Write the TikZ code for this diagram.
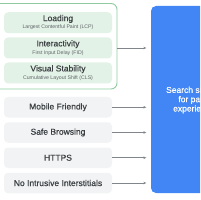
\documentclass[tikz,border=0pt]{standalone}
\usepackage{fontspec}
\setmainfont{Liberation Sans}
\newfontfamily\medfont[FakeBold=0.6]{Liberation Sans}
\usetikzlibrary{arrows.meta}
\definecolor{gblue}{HTML}{4285F4}
\definecolor{lgreen}{HTML}{E3F2E7}
\definecolor{bgreen}{HTML}{8FCB9E}
\definecolor{lgray}{HTML}{F1F3F4}
\definecolor{tdark}{HTML}{3C4043}
\definecolor{tsub}{HTML}{5F6368}
\definecolor{agray}{HTML}{80868B}
\tikzset{
  outerbox/.style={draw=bgreen, line width=0.9pt, rounded corners=6pt, minimum width=127pt, minimum height=85.5pt, inner sep=0pt},
  metricbox/.style={fill=lgreen, rounded corners=4pt, minimum width=108pt, minimum height=21pt, inner sep=0pt},
  signalbox/.style={fill=lgray, rounded corners=4pt, minimum width=108pt, minimum height=20.5pt, inner sep=0pt, text=tdark, font=\medfont\fontsize{8.5}{9}\selectfont},
  titletext/.style={text=tdark, font=\medfont\fontsize{8.5}{9}\selectfont, inner sep=0pt},
  subtext/.style={text=tsub, font=\fontsize{5.2}{6}\selectfont, inner sep=0pt},
  bluebox/.style={fill=gblue, rounded corners=5pt, minimum width=86pt, minimum height=187pt, inner sep=0pt},
  bluetext/.style={text=white, align=center, font=\medfont\fontsize{8.5}{9.3}\selectfont, inner sep=0pt},
  arr/.style={draw=agray, line width=0.6pt, -{Stealth[length=3pt,width=2.6pt]}, shorten >=4.5pt}
}
\begin{document}
\begin{tikzpicture}[x=1pt,y=-1pt]
\useasboundingbox (0,0) rectangle (200,200);
\clip (0,0) rectangle (200,200);
% outer green group
\node[outerbox] (outer) at (53.5,46.25) {};
% metric boxes
\node[metricbox] (m1) at (58,22.75) {};
\node[metricbox] (m2) at (58,48) {};
\node[metricbox] (m3) at (58,73) {};
\node[titletext] (t1) at ([yshift=3.8pt]m1.center) {Loading};
\node[subtext] (s1) at ([yshift=-4.8pt]m1.center) {Largest Contentful Paint (LCP)};
\node[titletext] (t2) at ([yshift=3.8pt]m2.center) {Interactivity};
\node[subtext] (s2) at ([yshift=-4.8pt]m2.center) {First Input Delay (FID)};
\node[titletext] (t3) at ([yshift=3.8pt]m3.center) {Visual Stability};
\node[subtext] (s3) at ([yshift=-4.8pt]m3.center) {Cumulative Layout Shift (CLS)};
% signal boxes
\node[signalbox] (g1) at (58,107.25) {Mobile Friendly};
\node[signalbox] (g2) at (58,132.5) {Safe Browsing};
\node[signalbox] (g3) at (58,157.75) {HTTPS};
\node[signalbox] (g4) at (58,183) {No Intrusive Interstitials};
% blue box
\node[bluebox] (blue) at (194,99.5) {};
\node[bluetext] (bt) at (194,100) {Search signals\\for page\\experience};
% arrows
\draw[arr] ([yshift=-1.75pt]outer.east) -- ([yshift=-1.75pt]outer.east -| blue.west);
\draw[arr] (g1.east) -- (g1.east -| blue.west);
\draw[arr] (g2.east) -- (g2.east -| blue.west);
\draw[arr] (g3.east) -- (g3.east -| blue.west);
\draw[arr] (g4.east) -- (g4.east -| blue.west);
\end{tikzpicture}
\end{document}
